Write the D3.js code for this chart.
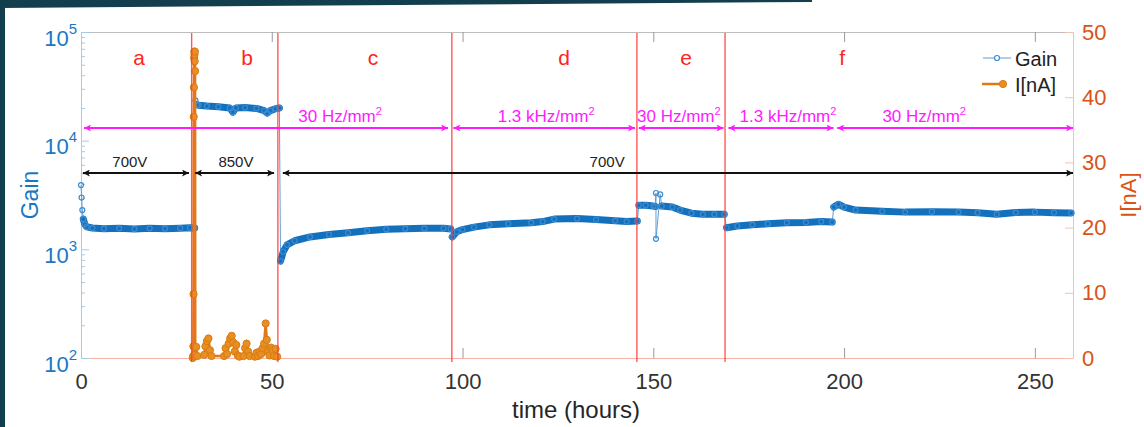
<!DOCTYPE html>
<html>
<head>
<meta charset="utf-8">
<script src="https://cdn.jsdelivr.net/npm/d3@7"></script>
<style>
  html, body { margin: 0; padding: 0; background: #fff; }
  svg { display: block; font-family: "Liberation Sans", Arial, Helvetica, sans-serif; }
</style>
</head>
<body>
<div id="chart"></div>
<script>
// gain readings per period [hours, gain]
const gainStart = [[0,3900],[0.15,3000],[0.35,2300]];
const gainA = [[0.6,1900],[1,1700],[1.5,1610],[3,1570],[6,1550],[10,1560],[14,1540],[18,1560],[22,1550],[26,1565],[28.5,1580],[29.8,1570]];
const gainJump = [[30.0,23500]];
const gainB = [[30.4,21500],[30.8,21200],[33,20800],[36,20500],[39,20000],[39.8,18300],[40.6,20000],[43,20200],[46,19800],[48,18900],[48.8,17900],[49.6,18900],[51,19700],[52,20000]];
const gainC = [[52.3,780],[53,950],[54,1100],[56,1200],[60,1300],[65,1370],[70,1420],[75,1480],[80,1530],[85,1550],[90,1560],[95,1560],[96.9,1540]];
const gainD = [[97.3,1300],[98.5,1450],[100,1520],[103,1600],[107,1680],[112,1720],[118,1760],[121,1800],[124,1900],[130,1920],[135,1880],[140,1830],[143,1800],[145.8,1820]];
const gainE1 = [[146.2,2550],[148,2550],[150,2500],[150.5,2480]];
const gainOutliers = [[150.7,3300],[150.7,1250],[151.8,3200]];
const gainE2 = [[152.2,2500],[155,2450],[157,2300],[160,2150],[163,2100],[166,2100],[168.6,2100]];
const gainF1 = [[169.2,1580],[172,1640],[176,1680],[180,1720],[185,1760],[190,1770],[194,1800],[196.9,1780]];
const gainF2 = [[197.3,2450],[198.5,2600],[200,2450],[203,2300],[210,2240],[216,2200],[223,2220],[230,2200],[235,2170],[240,2100],[245,2180],[250,2200],[255,2170],[259.5,2160]];

// current readings [hours, nA]
const current = [[29.3,0],[29.4,0.3],[29.45,1.8],[29.5,9.8],[29.55,37],[29.6,41.5],[29.65,46],[29.7,47],[29.75,46.5],[29.8,45.5],[29.85,47],[29.9,44],[29.95,0.5],[30.2,1.7],[30.5,0.3],
  [32.3,0.5],[32.6,1.8],[33.0,2.6],[33.4,3.0],[33.8,1.2],[34.2,0.3],
  [37.5,0.3],[37.9,1.5],[38.3,0.6],[38.7,2.2],[39.1,3.0],[39.5,3.4],[39.9,2.4],[40.3,1.0],[40.7,2.0],[41.1,0.4],[41.5,0.2],
  [42.6,0.3],[43.0,1.5],[43.4,2.2],[43.8,1.0],[44.2,0.3],
  [45.6,0.2],[46.0,0.8],[46.4,0.3],[46.8,1.0],[47.2,0.6],[47.6,1.5],[48.0,2.2],[48.4,5.3],[48.7,2.8],[49.0,1.0],[49.4,0.4],[49.8,1.6],[50.2,1.2],[50.6,0.3],[51.0,1.4],[51.4,0.2]];

// period boundaries and labels
const boundaries = [29.0, 51.6, 97.2, 145.7, 168.8];
const periodNames = ['a','b','c','d','e','f'];
const periodNameT = [15.2, 43.5, 76.5, 126.6, 158.6, 199.5];

// rate arrows
const rateSpans = [[0.8,96.2],[97.6,145.2],[146.2,168.4],[169.7,197.2],[198.2,260]];
const rateText = ['30 Hz/mm','1.3 kHz/mm','30 Hz/mm','1.3 kHz/mm','30 Hz/mm'];
const rateTextT = [67.9, 121.9, 156.7, 185.3, 221];

// voltage arrows
const voltSpans = [[0.5,28.3],[29.9,50.6],[52.9,260]];
const voltText = ['700V','850V','700V'];
const voltTextT = [12.8, 40.6, 137.9];

const xTicks = [0,50,100,150,200,250];
const gainTicks = [1e2,1e3,1e4,1e5];
const currentTicks = [0,10,20,30,40,50];

const W = 1144, H = 427;
const svg = d3.select('#chart').append('svg').attr('width', W).attr('height', H);

// slide frame
svg.append('rect').attr('x',0).attr('y',0).attr('width',5).attr('height',H).attr('fill','#133e4e');
svg.append('path').attr('d','M0,0 L812,0 L812,2 L0,8 Z').attr('fill','#133e4e');

const x = d3.scaleLinear().domain([0,260]).range([81,1073]);
const yG = d3.scaleLog().domain([100,1e5]).range([358,32]);
const yI = d3.scaleLinear().domain([0,50]).range([358,32]);

const defs = svg.append('defs');
function head(id, color) {
  defs.append('marker').attr('id', id)
    .attr('viewBox','0 0 10 10').attr('refX',10).attr('refY',5)
    .attr('markerWidth',10).attr('markerHeight',7)
    .attr('markerUnits','userSpaceOnUse').attr('orient','auto-start-reverse')
    .append('path').attr('d','M0,0 L10,5 L0,10 L2.5,5 Z').attr('fill', color);
}
head('hm','#ff1aff');
head('hk','#111');

// axes
const gTop = svg.append('g').attr('transform','translate(0,32)')
  .call(d3.axisTop(x).tickValues(xTicks.slice(1)).tickSizeInner(-10).tickSizeOuter(0).tickFormat(''));
gTop.select('.domain').attr('stroke','#bdbdbd');
gTop.selectAll('.tick line').attr('stroke','#9a9a9a');

const gBot = svg.append('g').attr('transform','translate(0,358)')
  .call(d3.axisBottom(x).tickValues(xTicks).tickSizeInner(-10).tickSizeOuter(0).tickPadding(15));
gBot.select('.domain').attr('stroke','#f5b2a4');
gBot.selectAll('.tick line').attr('stroke','#9a9a9a').filter(d => d === 0).remove();
gBot.selectAll('.tick text').attr('font-size',22).attr('fill','#333').attr('font-family',null);

const gLeft = svg.append('g').attr('transform','translate(81,0)');
gLeft.call(d3.axisLeft(yG).tickValues(d3.range(2,10).flatMap(m => [m*100, m*1000, m*10000])).tickSizeInner(-4).tickSizeOuter(0).tickFormat(''));
gLeft.call(g => g.selectAll('.tick line').attr('stroke','#a7cbe7'));
const gLeftMaj = svg.append('g').attr('transform','translate(81,0)')
  .call(d3.axisLeft(yG).tickValues(gainTicks).tickSizeInner(-8).tickSizeOuter(0).tickPadding(4).tickFormat(''));
gLeft.select('.domain').attr('stroke','#a7cbe7');
gLeftMaj.select('.domain').attr('stroke','#a7cbe7');
gLeftMaj.selectAll('.tick line').attr('stroke','#a7cbe7');
gLeftMaj.selectAll('.tick text').each(function(d) {
  const t = d3.select(this).attr('dy', null).attr('y', 13).attr('x', -4)
    .attr('font-size', 22).attr('fill', '#1a78c2').attr('font-family', null);
  t.text('10');
  t.append('tspan').attr('dy', -12).attr('font-size', 15).text(Math.round(Math.log10(d)));
});

const gRight = svg.append('g').attr('transform','translate(1073,0)')
  .call(d3.axisRight(yI).tickValues(currentTicks).tickSizeInner(-8).tickSizeOuter(0).tickPadding(9));
gRight.select('.domain').attr('stroke','#f3c3b2');
gRight.selectAll('.tick line').attr('stroke','#f3c3b2');
gRight.selectAll('.tick text').attr('font-size',22).attr('fill','#d95319').attr('font-family',null);

// axis titles
svg.append('text').attr('transform','translate(38,195) rotate(-90)').attr('text-anchor','middle')
  .attr('font-size',23).attr('fill','#1a78c2').text('Gain');
svg.append('text').attr('transform','translate(1136,195) rotate(-90)').attr('text-anchor','middle')
  .attr('font-size',22).attr('fill','#d95319').text('I[nA]');
svg.append('text').attr('x',576).attr('y',418).attr('text-anchor','middle')
  .attr('font-size',24).attr('fill','#262626').text('time (hours)');

// gain: thin connecting line plus dense band
const allGain = [].concat(gainStart, gainA, gainJump, gainB, gainC, gainD, gainE1, gainOutliers, gainE2, gainF1, gainF2);
const gLine = d3.line().x(d => x(d[0])).y(d => yG(d[1]));
svg.append('path').attr('d', gLine(allGain)).attr('fill','none').attr('stroke','#5d9fd6').attr('stroke-width',1);
[gainA, gainB, gainC, gainD, gainE1, gainE2, gainF1, gainF2].forEach(seg => {
  svg.append('path').attr('d', gLine(seg)).attr('fill','none').attr('stroke','#1370bd')
    .attr('stroke-width',7).attr('stroke-linecap','round').attr('stroke-linejoin','round');
});
svg.append('g').selectAll('circle').data(allGain).join('circle')
  .attr('cx', d => x(d[0])).attr('cy', d => yG(d[1])).attr('r', 2.5)
  .attr('fill','none').attr('stroke','#3d8bd0').attr('stroke-width',1.2);

// current
const iLine = d3.line().x(d => x(d[0])).y(d => yI(d[1]));
svg.append('path').attr('d', iLine(current)).attr('fill','none').attr('stroke','#e07a16').attr('stroke-width',2.5);
svg.append('g').selectAll('circle').data(current).join('circle')
  .attr('cx', d => x(d[0])).attr('cy', d => yI(d[1])).attr('r', 3.6)
  .attr('fill','#e8901f').attr('stroke','#d97a16').attr('stroke-width',1);

// period boundaries
svg.append('g').selectAll('line').data(boundaries).join('line')
  .attr('x1', d => x(d)).attr('x2', d => x(d)).attr('y1', 33).attr('y2', 362)
  .attr('stroke','#ff3b3b').attr('stroke-width',1.4).attr('opacity',0.85);

svg.append('g').selectAll('text').data(periodNames).join('text')
  .attr('x', (d, i) => x(periodNameT[i])).attr('y', 65).attr('text-anchor','middle')
  .attr('font-size',21).attr('fill','#ff2222').text(d => d);

// rate arrows
svg.append('g').selectAll('line').data(rateSpans).join('line')
  .attr('x1', d => x(d[0])).attr('x2', d => x(d[1])).attr('y1',128).attr('y2',128)
  .attr('stroke','#ff1aff').attr('stroke-width',2)
  .attr('marker-start','url(#hm)').attr('marker-end','url(#hm)');
const rt = svg.append('g').selectAll('text').data(rateText).join('text')
  .attr('x', (d, i) => x(rateTextT[i])).attr('y', 122).attr('text-anchor','middle')
  .attr('font-size',17).attr('fill','#ff1aff').text(d => d);
rt.append('tspan').attr('dy',-7).attr('font-size',11).text('2');

// voltage arrows
svg.append('g').selectAll('line').data(voltSpans).join('line')
  .attr('x1', d => x(d[0])).attr('x2', d => x(d[1])).attr('y1',173).attr('y2',173)
  .attr('stroke','#111').attr('stroke-width',2)
  .attr('marker-start','url(#hk)').attr('marker-end','url(#hk)');
svg.append('g').selectAll('text').data(voltText).join('text')
  .attr('x', (d, i) => x(voltTextT[i])).attr('y', 167).attr('text-anchor','middle')
  .attr('font-size',15).attr('fill','#222').text(d => d);

// legend
const lg = svg.append('g');
lg.append('line').attr('x1',983).attr('x2',1011).attr('y1',58).attr('y2',58).attr('stroke','#5d9fd6').attr('stroke-width',1);
lg.append('circle').attr('cx',997).attr('cy',58).attr('r',2.5).attr('fill','#fff').attr('stroke','#3d8bd0').attr('stroke-width',1.2);
lg.append('text').attr('x',1015).attr('y',66).attr('font-size',20).attr('fill','#222').text('Gain');
lg.append('line').attr('x1',982).attr('x2',1004).attr('y1',84).attr('y2',84).attr('stroke','#e07a16').attr('stroke-width',2.5);
lg.append('circle').attr('cx',1003).attr('cy',84).attr('r',3.6).attr('fill','#e8901f').attr('stroke','#d97a16');
lg.append('text').attr('x',1015).attr('y',92).attr('font-size',20).attr('fill','#222').text('I[nA]');
</script>
</body>
</html>
